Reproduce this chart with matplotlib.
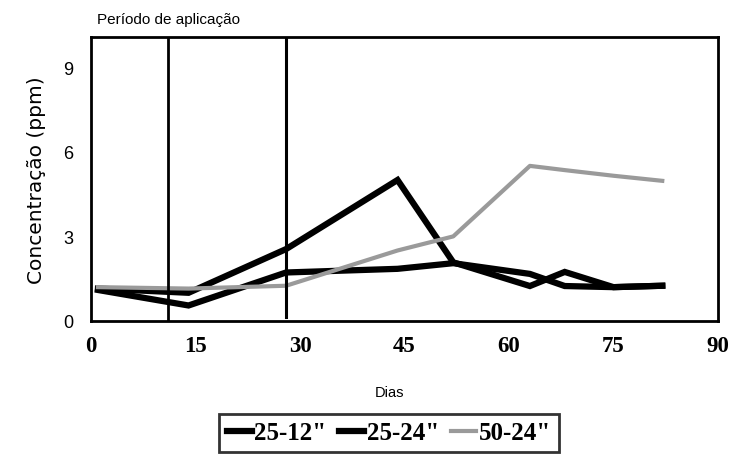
import matplotlib
matplotlib.use("Agg")
import matplotlib.pyplot as plt

days = [1, 14, 28, 44, 52, 63, 68, 75, 82]
s_25_12 = [1.15, 1.0, 2.55, 5.0, 2.08, 1.24, 1.74, 1.2, 1.25]
s_25_24 = [1.1, 0.55, 1.72, 1.85, 2.05, 1.67, 1.24, 1.2, 1.25]
s_50_24 = [1.2, 1.15, 1.25, 2.5, 3.0, 5.5, 5.35, 5.15, 4.97]
labels = ['25-12"', '25-24"', '50-24"']
app_days = [11, 28]
xticks = [0, 15, 30, 45, 60, 75, 90]
yticks = [0, 3, 6, 9]

fig = plt.figure(figsize=(7.3, 4.56), dpi=100)
ax = fig.add_axes([91/730, 1 - 322/456, (718-91)/730, (322-38)/456])

l1, = ax.plot(days, s_25_12, color='black', lw=4.5, solid_joinstyle='miter')
l2, = ax.plot(days, s_25_24, color='black', lw=4.5, solid_joinstyle='miter')
l3, = ax.plot(days, s_50_24, color='#9a9a9a', lw=3)

ax.axvline(app_days[0], ymin=0, ymax=1, color='black', lw=2)
ax.axvline(app_days[1], ymin=0.015, ymax=1, color='black', lw=2.2)

ax.set_xlim(0, 90)
ax.set_ylim(0, 10.07)
ax.set_xticks(xticks)
ax.set_yticks(yticks)
ax.set_xticklabels([str(t) for t in xticks], family='Liberation Serif',
                   fontweight='bold', fontsize=16.5)
ax.set_yticklabels([str(t) for t in yticks], family='Liberation Sans', fontsize=13)
ax.tick_params(axis='both', length=0)
ax.tick_params(axis='x', pad=10)
ax.tick_params(axis='y', pad=13)
for sp in ax.spines.values():
    sp.set_linewidth(2)
    sp.set_color('black')

ax.set_ylabel('Concentração (ppm)', family='DejaVu Sans', fontsize=14.5,
              labelpad=12, color='black')
fig.text(390/730, 1 - 393/456, 'Dias', ha='center', va='center',
         family='Liberation Sans', fontsize=10.5)
fig.text(97/730, 1 - 20/456, 'Período de aplicação', ha='left', va='center',
         family='Liberation Sans', fontsize=11)

leg = fig.legend([l1, l2, l3], labels, loc='center',
                 bbox_to_anchor=(389/730, 1 - 434/456), ncol=3,
                 prop={'family': 'Liberation Serif', 'weight': 'bold', 'size': 18},
                 handlelength=1.0, handletextpad=0.1, columnspacing=0.5,
                 frameon=True, fancybox=False, borderpad=0.3, borderaxespad=0)
leg.get_frame().set_edgecolor('black')
leg.get_frame().set_linewidth(2)

fig.savefig('out.png', dpi=100)
